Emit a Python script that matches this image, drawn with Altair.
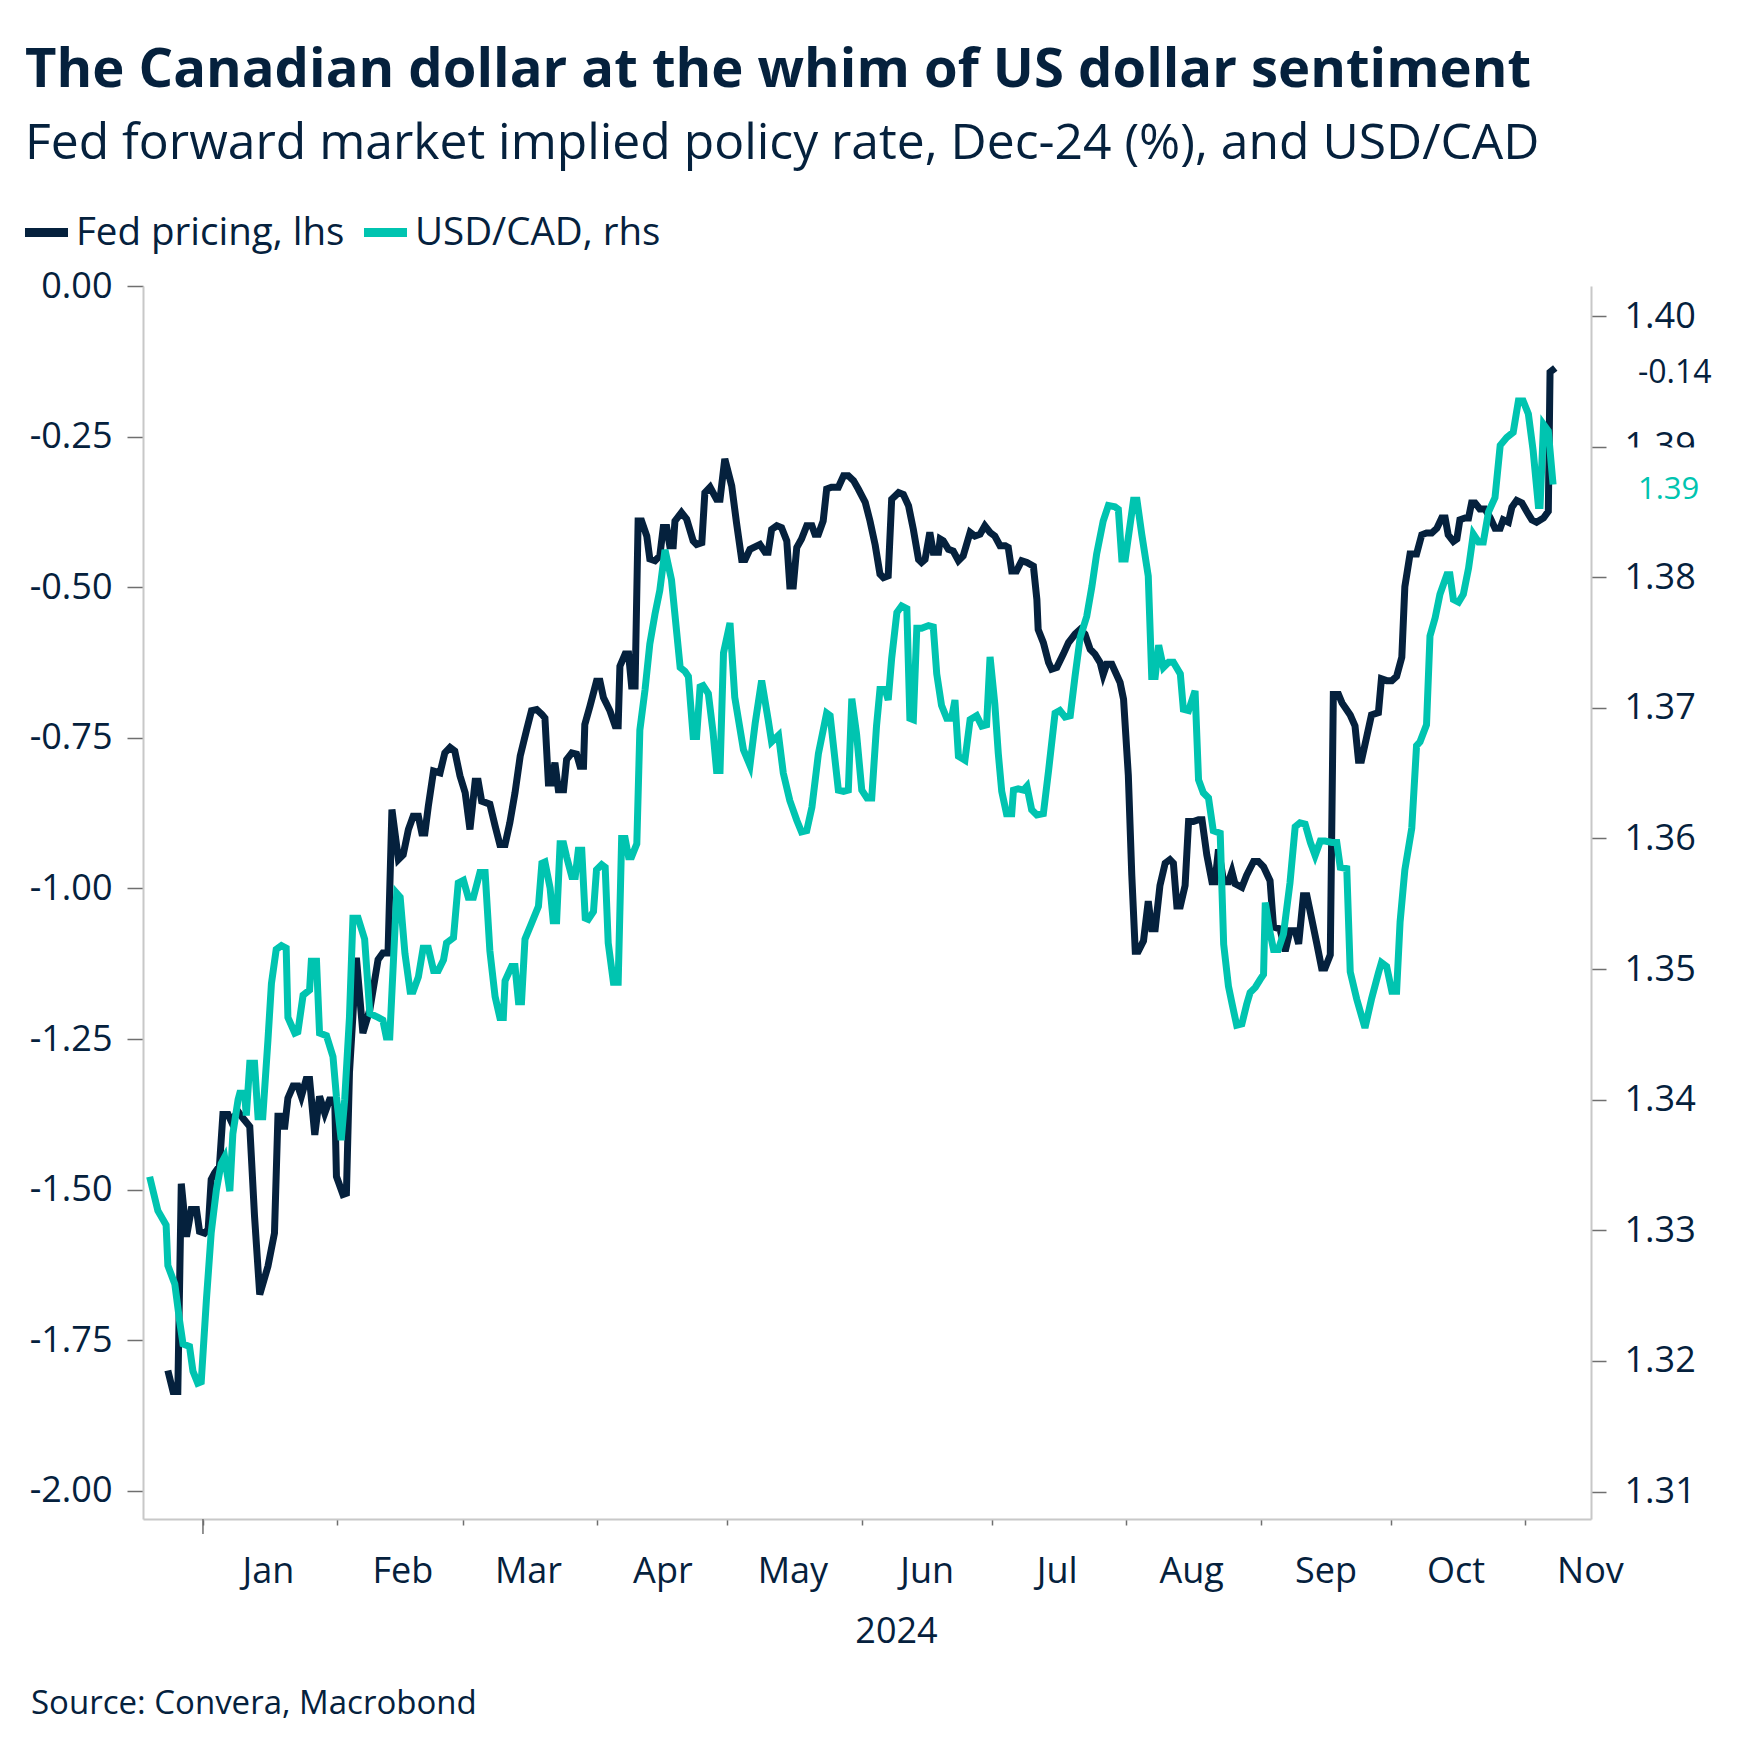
import altair as alt
import pandas as pd

NAVY = "#05213d"
TEAL = "#00c4b0"
FONT = "Open Sans"
AXIS_GREY = "#c8c8c8"
TICK_GREY = "#6f6f6f"

TITLE = "The Canadian dollar at the whim of US dollar sentiment"
SUBTITLE = "Fed forward market implied policy rate, Dec-24 (%), and USD/CAD"
SOURCE = "Source: Convera, Macrobond"
SERIES = ["Fed pricing, lhs", "USD/CAD, rhs"]

# days after 1 Jan 2024 (negative = Dec 2023)
fed_day = [-8.1, -6.9, -5.8, -5.0, -3.8, -2.7, -1.5, -0.8, 0.4, 1.2, 1.9, 2.7, 3.8, 4.6, 5.8, 6.5, 8.1, 9.2,
           10.8, 11.9, 13.1, 15.0, 16.5, 17.3, 18.5, 18.8, 19.6, 20.8, 21.9, 22.7, 23.8, 24.6, 25.8, 26.9,
           28.1, 29.2, 30.4, 30.8, 32.3, 33.1, 33.8, 35.4, 36.9, 38.5, 40.4, 41.5, 42.7, 43.6, 45.1, 46.2,
           47.4, 48.5, 49.7, 50.5, 51.2, 52.0, 53.2, 54.7, 55.8, 57.0, 58.1, 59.3, 60.5, 61.6, 62.8, 63.5,
           64.3, 66.2, 67.4, 68.5, 69.7, 70.8, 72.0, 73.2, 74.7, 75.8, 77.0, 78.2, 78.9, 79.7, 80.5, 81.2,
           82.0, 83.2, 83.9, 85.1, 86.2, 87.0, 87.8, 88.1, 89.3, 90.8, 91.6, 92.4, 93.9, 95.1, 95.8, 96.2,
           97.4, 98.2, 98.9, 99.7, 100.4, 101.2, 102.4, 103.1, 104.3, 105.4, 106.2, 107.0, 107.7, 108.5,
           108.9, 110.4, 111.6, 113.1, 113.9, 115.1, 115.8, 117.0, 118.5, 119.3, 120.4, 122.0, 123.1, 124.3,
           125.1, 126.2, 128.5, 129.7, 130.4, 131.2, 132.4, 133.5, 134.7, 135.4, 136.2, 137.0, 138.1, 139.3,
           140.5, 141.2, 142.0, 143.1, 143.9, 145.0, 146.6, 147.8, 148.9, 150.1, 151.2, 152.8, 153.9, 155.1,
           156.2, 157.0, 158.1, 158.9, 160.5, 161.6, 162.8, 163.9, 165.1, 165.8, 166.6, 167.7, 168.5, 169.7,
           170.1, 170.8, 172.0, 173.1, 174.3, 175.4, 177.0, 178.1, 179.3, 180.4, 181.6, 182.7, 183.9, 185.1,
           185.8, 186.6, 187.7, 188.9, 190.1, 191.6, 192.4, 192.7, 193.9, 195.1, 195.8, 197.0, 198.5, 199.7,
           201.2, 202.4, 203.5, 204.7, 205.8, 207.0, 207.7, 208.5, 209.7, 211.6, 212.4, 213.5, 214.3, 215.1,
           215.8, 217.0, 218.1, 218.9, 219.7, 220.8, 222.0, 223.1, 223.9, 224.7, 225.5, 226.6, 227.4, 228.5,
           229.7, 230.5, 231.6, 232.8, 233.5, 234.3, 235.5, 236.6, 237.4, 238.1, 239.7, 240.8, 242.4, 243.5,
           244.7, 246.2, 247.0, 248.5, 249.7, 250.8, 252.0, 252.8, 253.9, 254.7, 255.8, 257.0, 258.1, 258.9,
           260.1, 260.8, 262.0, 262.8, 264.7, 265.8, 266.6, 267.3, 268.5, 269.6, 271.2, 271.9, 273.1, 274.3,
           275.4, 276.6, 277.3, 278.5, 280.0, 281.2, 282.3, 283.5, 284.7, 285.8, 286.6, 287.3, 288.5, 289.3,
           290.0, 291.2, 292.0, 292.7, 293.5, 294.6, 295.8, 297.0, 298.1, 299.3, 300.0, 301.2, 302.0, 303.1,
           304.3, 305.4, 306.6, 307.7, 309.3, 310.4, 310.8, 312.0]
fed_val = [-1.800, -1.835, -1.835, -1.490, -1.578, -1.533, -1.533, -1.569, -1.572, -1.566, -1.483, -1.472,
           -1.461, -1.375, -1.375, -1.386, -1.370, -1.381, -1.395, -1.544, -1.674, -1.627, -1.572, -1.378,
           -1.378, -1.400, -1.348, -1.328, -1.328, -1.345, -1.317, -1.317, -1.409, -1.345, -1.373, -1.351,
           -1.351, -1.478, -1.508, -1.506, -1.306, -1.115, -1.240, -1.201, -1.118, -1.107, -1.107, -0.869,
           -0.952, -0.944, -0.902, -0.880, -0.880, -0.908, -0.908, -0.863, -0.805, -0.808, -0.775, -0.766,
           -0.772, -0.813, -0.841, -0.902, -0.822, -0.822, -0.855, -0.860, -0.896, -0.927, -0.927, -0.891,
           -0.841, -0.780, -0.736, -0.705, -0.703, -0.711, -0.717, -0.825, -0.825, -0.791, -0.836, -0.836,
           -0.786, -0.775, -0.777, -0.797, -0.797, -0.728, -0.697, -0.656, -0.656, -0.683, -0.705, -0.730,
           -0.730, -0.631, -0.611, -0.611, -0.664, -0.664, -0.390, -0.390, -0.415, -0.453, -0.456, -0.448,
           -0.401, -0.401, -0.431, -0.431, -0.390, -0.376, -0.387, -0.423, -0.429, -0.426, -0.343, -0.334,
           -0.354, -0.354, -0.287, -0.332, -0.393, -0.454, -0.454, -0.437, -0.429, -0.442, -0.442, -0.404,
           -0.398, -0.401, -0.423, -0.498, -0.498, -0.434, -0.420, -0.398, -0.398, -0.412, -0.412, -0.390,
           -0.337, -0.334, -0.334, -0.315, -0.315, -0.323, -0.337, -0.359, -0.390, -0.430, -0.478, -0.484,
           -0.481, -0.354, -0.343, -0.346, -0.365, -0.404, -0.454, -0.459, -0.454, -0.409, -0.442, -0.442,
           -0.420, -0.423, -0.437, -0.440, -0.456, -0.448, -0.409, -0.415, -0.412, -0.398, -0.409, -0.415,
           -0.431, -0.431, -0.434, -0.473, -0.473, -0.456, -0.459, -0.465, -0.520, -0.570, -0.592, -0.625,
           -0.636, -0.633, -0.611, -0.592, -0.578, -0.570, -0.578, -0.603, -0.611, -0.625, -0.645, -0.628,
           -0.628, -0.658, -0.686, -0.812, -0.978, -1.104, -1.104, -1.087, -1.021, -1.067, -1.067, -0.995,
           -0.958, -0.952, -0.958, -1.029, -1.029, -0.995, -0.889, -0.889, -0.886, -0.886, -0.944, -0.989,
           -0.989, -0.935, -0.989, -0.989, -0.972, -0.992, -0.998, -0.978, -0.955, -0.955, -0.964, -0.987,
           -1.064, -1.067, -1.104, -1.070, -1.070, -1.092, -1.012, -1.012, -1.050, -1.092, -1.132, -1.132,
           -1.110, -0.678, -0.678, -0.692, -0.712, -0.730, -0.787, -0.787, -0.748, -0.712, -0.708, -0.652,
           -0.655, -0.655, -0.648, -0.616, -0.499, -0.445, -0.445, -0.413, -0.410, -0.410, -0.402, -0.385,
           -0.385, -0.413, -0.424, -0.420, -0.388, -0.385, -0.385, -0.360, -0.360, -0.370, -0.370, -0.385,
           -0.402, -0.402, -0.388, -0.392, -0.367, -0.356, -0.360, -0.374, -0.388, -0.392, -0.385, -0.374,
           -0.143, -0.136]

cad_day = [-12.3, -10.4, -8.5, -8.1, -6.5, -5.4, -4.6, -3.1, -2.3, -1.2, -0.4, 0.8, 1.9, 3.1, 4.2, 5.0, 6.2,
           6.9, 8.1, 8.5, 9.6, 10.0, 10.8, 11.9, 12.7, 13.8, 15.0, 15.8, 16.9, 18.1, 19.2, 19.6, 21.2, 21.9,
           23.1, 24.6, 25.0, 26.2, 26.9, 28.5, 30.0, 30.8, 31.9, 32.7, 33.8, 34.6, 35.8, 37.3, 38.5, 40.4,
           41.5, 42.3, 43.1, 44.7, 45.5, 46.6, 47.8, 48.5, 49.7, 50.8, 52.0, 53.2, 54.3, 55.5, 56.2, 57.8,
           58.9, 60.1, 61.2, 62.4, 63.9, 65.1, 66.2, 67.4, 68.5, 69.3, 69.7, 71.2, 72.0, 72.8, 73.5, 74.3,
           75.8, 77.4, 78.2, 78.9, 80.1, 80.8, 81.6, 82.4, 83.2, 83.9, 85.1, 85.9, 86.6, 87.4, 88.2, 88.9,
           90.1, 90.8, 92.0, 92.8, 93.5, 94.7, 95.8, 96.6, 97.4, 98.2, 98.9, 100.1, 100.8, 102.0, 103.1,
           104.3, 105.4, 106.6, 108.1, 110.1, 111.2, 112.0, 113.1, 113.9, 114.7, 115.4, 116.6, 117.7, 118.5,
           119.3, 120.1, 121.6, 122.7, 124.7, 126.2, 127.4, 128.9, 130.4, 131.2, 132.8, 133.9, 135.4, 137.0,
           138.1, 139.3, 140.5, 142.0, 143.9, 144.7, 146.6, 147.8, 148.9, 149.7, 150.8, 152.0, 153.2, 154.3,
           155.4, 156.2, 157.4, 158.1, 158.9, 160.1, 161.2, 162.4, 163.1, 163.9, 164.7, 165.8, 167.4, 168.5,
           169.3, 170.4, 171.6, 172.7, 173.5, 174.3, 175.8, 177.0, 178.5, 179.7, 180.8, 181.6, 182.7, 183.5,
           184.3, 185.4, 186.6, 187.0, 188.1, 189.3, 190.1, 191.2, 192.4, 193.9, 195.1, 196.6, 197.7, 198.9,
           200.1, 201.2, 202.4, 203.9, 205.1, 206.2, 207.7, 208.9, 210.4, 211.2, 212.0, 212.8, 214.7, 215.5,
           216.6, 218.1, 218.9, 219.7, 220.5, 221.6, 222.8, 223.9, 225.5, 226.2, 227.4, 228.9, 229.7, 230.8,
           232.0, 233.1, 234.7, 235.5, 236.6, 237.4, 238.5, 239.7, 240.8, 241.6, 242.8, 243.9, 244.7, 245.1,
           246.2, 247.0, 248.1, 249.3, 250.8, 252.0, 253.1, 254.3, 255.5, 256.6, 257.8, 258.9, 260.5, 261.6,
           262.4, 263.9, 264.7, 266.2, 268.1, 269.6, 271.2, 271.9, 273.1, 274.3, 275.4, 276.2, 277.3, 278.9,
           280.0, 280.8, 282.3, 283.1, 284.3, 285.4, 287.0, 287.7, 288.5, 289.7, 290.8, 292.0, 293.1, 294.3,
           295.4, 296.6, 298.1, 299.3, 300.8, 302.3, 303.5, 304.6, 305.8, 306.9, 308.1, 308.5, 309.3, 310.4,
           311.5]
cad_val = [1.3341, 1.3315, 1.3304, 1.3273, 1.3259, 1.3231, 1.3213, 1.3211, 1.3192, 1.3183, 1.3184, 1.3247,
           1.3298, 1.3331, 1.3351, 1.3356, 1.3330, 1.3374, 1.3400, 1.3405, 1.3405, 1.3388, 1.3428, 1.3428,
           1.3387, 1.3387, 1.3446, 1.3489, 1.3515, 1.3518, 1.3516, 1.3463, 1.3451, 1.3452, 1.3480, 1.3484,
           1.3506, 1.3506, 1.3451, 1.3449, 1.3433, 1.3402, 1.3369, 1.3400, 1.3463, 1.3539, 1.3539, 1.3523,
           1.3466, 1.3463, 1.3461, 1.3448, 1.3448, 1.3558, 1.3555, 1.3512, 1.3483, 1.3483, 1.3494, 1.3516,
           1.3516, 1.3499, 1.3499, 1.3507, 1.3520, 1.3524, 1.3566, 1.3568, 1.3555, 1.3555, 1.3574, 1.3574,
           1.3514, 1.3479, 1.3463, 1.3463, 1.3491, 1.3502, 1.3502, 1.3475, 1.3475, 1.3523, 1.3535, 1.3548,
           1.3581, 1.3582, 1.3562, 1.3537, 1.3537, 1.3596, 1.3596, 1.3586, 1.3571, 1.3571, 1.3591, 1.3591,
           1.3539, 1.3538, 1.3544, 1.3576, 1.3580, 1.3578, 1.3520, 1.3490, 1.3490, 1.3600, 1.3600, 1.3586,
           1.3586, 1.3596, 1.3683, 1.3714, 1.3749, 1.3772, 1.3790, 1.3821, 1.3798, 1.3731, 1.3728, 1.3724,
           1.3678, 1.3678, 1.3716, 1.3717, 1.3711, 1.3681, 1.3652, 1.3652, 1.3742, 1.3765, 1.3708, 1.3668,
           1.3656, 1.3688, 1.3721, 1.3691, 1.3674, 1.3679, 1.3650, 1.3629, 1.3614, 1.3605, 1.3606, 1.3624,
           1.3665, 1.3696, 1.3694, 1.3637, 1.3636, 1.3637, 1.3707, 1.3680, 1.3637, 1.3631, 1.3631, 1.3686,
           1.3714, 1.3714, 1.3706, 1.3738, 1.3773, 1.3778, 1.3776, 1.3692, 1.3691, 1.3761, 1.3761, 1.3763,
           1.3762, 1.3726, 1.3702, 1.3692, 1.3692, 1.3706, 1.3663, 1.3660, 1.3691, 1.3694, 1.3686, 1.3687,
           1.3739, 1.3703, 1.3665, 1.3636, 1.3619, 1.3619, 1.3637, 1.3638, 1.3637, 1.3640, 1.3622, 1.3618,
           1.3619, 1.3652, 1.3696, 1.3698, 1.3693, 1.3694, 1.3724, 1.3754, 1.3770, 1.3793, 1.3818, 1.3843,
           1.3855, 1.3854, 1.3852, 1.3814, 1.3814, 1.3859, 1.3859, 1.3833, 1.3801, 1.3724, 1.3724, 1.3748,
           1.3731, 1.3735, 1.3735, 1.3726, 1.3699, 1.3698, 1.3713, 1.3645, 1.3635, 1.3631, 1.3606, 1.3604,
           1.3519, 1.3487, 1.3474, 1.3457, 1.3458, 1.3473, 1.3482, 1.3486, 1.3492, 1.3496, 1.3551, 1.3528,
           1.3515, 1.3515, 1.3527, 1.3566, 1.3609, 1.3612, 1.3611, 1.3597, 1.3587, 1.3598, 1.3598, 1.3597,
           1.3597, 1.3578, 1.3577, 1.3498, 1.3477, 1.3455, 1.3477, 1.3497, 1.3505, 1.3502, 1.3483, 1.3483,
           1.3536, 1.3576, 1.3608, 1.3671, 1.3674, 1.3687, 1.3755, 1.3769, 1.3787, 1.3802, 1.3802, 1.3783,
           1.3781, 1.3787, 1.3807, 1.3833, 1.3827, 1.3827, 1.3850, 1.3861, 1.3901, 1.3907, 1.3911, 1.3935,
           1.3935, 1.3925, 1.3897, 1.3855, 1.3855, 1.3917, 1.3912, 1.3871]

month_starts = ["2024-01-01", "2024-02-01", "2024-03-01", "2024-04-01", "2024-05-01", "2024-06-01",
                "2024-07-01", "2024-08-01", "2024-09-01", "2024-10-01", "2024-11-01"]
x_limits = ["2023-12-18T04:00:00", "2024-11-16T06:00:00"]
left_ticks = [-2.0, -1.75, -1.5, -1.25, -1.0, -0.75, -0.5, -0.25, 0.0]
right_ticks = [1.31, 1.32, 1.33, 1.34, 1.35, 1.36, 1.37, 1.38, 1.39, 1.40]
left_domain = [-2.0465, 0.0]
right_domain = [1.3079, 1.4023]

BASE = pd.Timestamp("2024-01-01", tz="UTC")


def ms_from_days(days):
    return [int((BASE + pd.Timedelta(days=float(d))).value // 10**6) for d in days]


def ms_from_str(items):
    return [int(pd.Timestamp(s, tz="UTC").value // 10**6) for s in items]


month_ms = ms_from_str(month_starts)
x_dom = ms_from_str(x_limits)

fed_df = pd.DataFrame({"date": ms_from_days(fed_day), "value": fed_val, "series": SERIES[0]})
cad_df = pd.DataFrame({"date": ms_from_days(cad_day), "value": cad_val, "series": SERIES[1]})
fed_last = pd.DataFrame({"value": [fed_val[-1]], "label": [f"{fed_val[-1]:.2f}"]})
cad_last = pd.DataFrame({"value": [cad_val[-1]], "label": [f"{cad_val[-1]:.2f}"]})
year_tick = pd.DataFrame({"date": [month_ms[0]]})
source_df = pd.DataFrame({"t": [SOURCE]})

W, H = 1448, 1233

color_scale = alt.Scale(domain=SERIES, range=[NAVY, TEAL])
legend = alt.Legend(
    title=None, orient="none", legendX=-123, legendY=-80, direction="horizontal",
    symbolType="stroke", symbolStrokeWidth=9, symbolSize=1850,
    labelFont=FONT, labelFontSize=38.5, labelColor=NAVY, labelOffset=3,
    columnPadding=0, labelLimit=0,
)

x_axis = alt.Axis(
    values=month_ms, labelExpr="utcFormat(datum.value, '%b')", labelOffset=65,
    labelAlign="center", labelBaseline="alphabetic", labelPadding=57,
    labelFont=FONT, labelFontSize=36, labelColor=NAVY,
    labelOverlap=False, labelBound=False, labelFlush=False,
    tickSize=6, tickColor=TICK_GREY, tickWidth=1.5,
    domainColor=AXIS_GREY, domainWidth=2, grid=False,
    title="2024", titleX=753, titleY=123, titleBaseline="alphabetic", titleAlign="center",
    titleFont=FONT, titleFontSize=36, titleFontWeight="normal", titleColor=NAVY,
)
x_enc = alt.X("date:T", scale=alt.Scale(type="utc", domain=x_dom), axis=x_axis)

left_axis = alt.Axis(
    orient="left", values=left_ticks,
    labelExpr="replace(format(datum.value, '.2f'), '\u2212', '-')",
    labelFont=FONT, labelFontSize=36, labelColor=NAVY, labelPadding=15,
    tickSize=16, tickColor=TICK_GREY, tickWidth=1.5,
    domainColor=AXIS_GREY, domainWidth=2, grid=False, title=None,
)
right_axis = alt.Axis(
    orient="right", values=right_ticks, format=".2f",
    labelFont=FONT, labelFontSize=36, labelColor=NAVY, labelPadding=18,
    tickSize=15, tickColor=TICK_GREY, tickWidth=1.5,
    domainColor=AXIS_GREY, domainWidth=2, grid=False, title=None,
)
y_left = alt.Scale(domain=left_domain, nice=False, zero=False)
y_right = alt.Scale(domain=right_domain, nice=False, zero=False)
y_left_enc = alt.Y("value:Q", scale=y_left, axis=left_axis)
y_right_enc = alt.Y("value:Q", scale=y_right, axis=right_axis)

fed_line = alt.Chart(fed_df).mark_line(strokeWidth=7, strokeJoin="miter").encode(
    x=x_enc, y=y_left_enc,
    color=alt.Color("series:N", scale=color_scale, legend=legend),
)
fed_label = alt.Chart(fed_last).mark_text(
    align="left", baseline="middle", dy=5, font=FONT, fontSize=32, color=NAVY
).encode(x=alt.value(1495), y=y_left_enc, text="label:N")
jan_tick = alt.Chart(year_tick).mark_rule(color=TICK_GREY, strokeWidth=1.5).encode(
    x=alt.X("date:T", scale=alt.Scale(type="utc", domain=x_dom)),
    y=alt.value(H), y2=alt.value(H + 15),
)
source = alt.Chart(source_df).mark_text(
    align="left", baseline="alphabetic", font=FONT, fontSize=33, color=NAVY
).encode(text="t:N", x=alt.value(-112), y=alt.value(1428))

cad_line = alt.Chart(cad_df).mark_line(strokeWidth=7, strokeJoin="miter").encode(
    x=x_enc, y=y_right_enc,
    color=alt.Color("series:N", scale=color_scale, legend=legend),
)
cad_box = alt.Chart(cad_last).mark_point(
    shape="M-1.75,-1H1.75V1H-1.75Z", filled=True, fill="white", opacity=1, strokeWidth=0, size=5476
).encode(x=alt.value(1537), y=y_right_enc)
cad_label = alt.Chart(cad_last).mark_text(
    align="left", baseline="middle", dy=5, font=FONT, fontSize=31, color=TEAL
).encode(x=alt.value(1495), y=y_right_enc, text="label:N")

left_group = alt.layer(fed_line, fed_label, jan_tick, source)
right_group = alt.layer(cad_line, cad_box, cad_label)

chart = alt.layer(left_group, right_group).resolve_scale(y="independent").properties(
    width=W, height=H,
    autosize=alt.AutoSizeParams(type="none"),
    padding={"left": 135, "top": 278, "right": 150, "bottom": 215},
    title=alt.TitleParams(
        text=TITLE, subtitle=SUBTITLE, anchor="start", frame="group", dx=-118, dy=-16, offset=20,
        font=FONT, fontSize=54.4, fontWeight="bold", color=NAVY,
        subtitleFont=FONT, subtitleFontSize=49.8, subtitleColor=NAVY, subtitlePadding=22,
    ),
).configure(background="white").configure_view(stroke=None)

chart.save("out.html", embed_options={"renderer": "svg", "actions": False})
